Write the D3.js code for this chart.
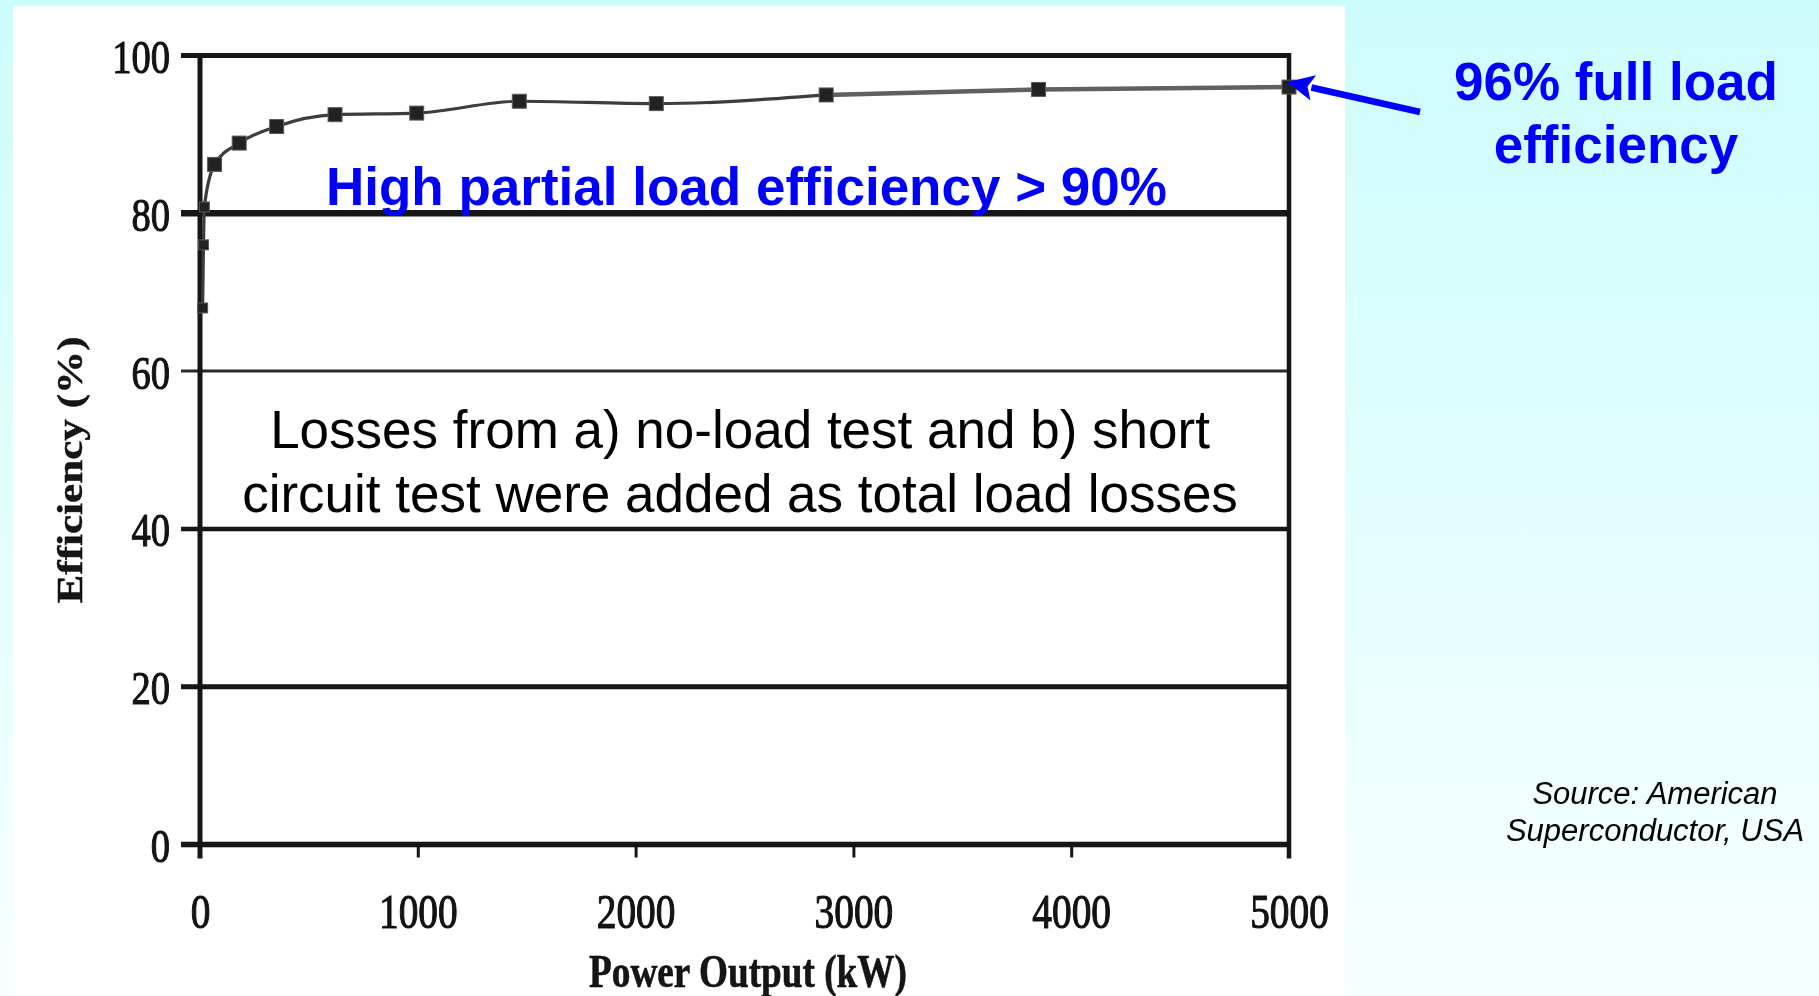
<!DOCTYPE html>
<html>
<head>
<meta charset="utf-8">
<script src="https://cdn.jsdelivr.net/npm/d3@7"></script>
<style>
  html, body { margin: 0; padding: 0; overflow: hidden; background: #fff; }
  svg { display: block; }
</style>
</head>
<body>
<svg id="chart" width="1819" height="996"></svg>
<script>
// Measured efficiency of the HTS transformer against power output
const powerKW    = [12, 16, 20, 67, 180, 352, 620, 995, 1466, 2095, 2875, 3850, 5000];
const efficiency = [68.0, 76.0, 80.8, 86.2, 88.9, 91.0, 92.5, 92.7, 94.2, 93.9, 95.0, 95.7, 96.0];

const xTicks = [0, 1000, 2000, 3000, 4000, 5000];
const yTicks = [0, 20, 40, 60, 80, 100];

const xTitle = "Power Output (kW)";
const yTitle = "Efficiency (%)";
const noteHigh = "High partial load efficiency > 90%";
const noteFull = ["96% full load", "efficiency"];
const noteLosses = ["Losses from a) no-load test and b) short",
                    "circuit test were added as total load losses"];
const noteSource = ["Source: American", "Superconductor, USA"];

const W = 1819, H = 996;
const svg = d3.select("#chart");
const defs = svg.append("defs");

// slide background: pale cyan, lightening downwards
const bg = defs.append("linearGradient").attr("id", "bg")
  .attr("x1", 0).attr("y1", 0).attr("x2", 0).attr("y2", 1);
bg.append("stop").attr("offset", "0%").attr("stop-color", "#cdfcfc");
bg.append("stop").attr("offset", "55%").attr("stop-color", "#e4fefe");
bg.append("stop").attr("offset", "100%").attr("stop-color", "#f7ffff");
svg.append("rect").attr("width", W).attr("height", H).attr("fill", "url(#bg)");

// soft edges of the printed figure
defs.append("filter").attr("id", "soft")
  .append("feGaussianBlur").attr("stdDeviation", 0.6);

// white panel holding the figure
svg.append("rect").attr("x", 13).attr("y", 6).attr("width", 1332).attr("height", H - 6)
  .attr("fill", "#ffffff");

const x = d3.scaleLinear().domain([0, 5000]).range([200, 1289]);
const y = d3.scaleLinear().domain([0, 100]).range([844.5, 55.5]);

const fig = svg.append("g").attr("filter", "url(#soft)");
const ink = "#121212";
const serif = "'Liberation Serif', 'Times New Roman', serif";
const squeeze = 0.82;

// horizontal grid lines (they also form the left-hand tick marks)
const gridWidth = { 0: 5.5, 20: 5, 40: 4.5, 60: 3, 80: 6.5, 100: 5 };
fig.append("g").selectAll("line")
  .data(yTicks)
  .join("line")
  .attr("x1", x(0) - 19)
  .attr("x2", x(5000) + 2)
  .attr("y1", d => y(d))
  .attr("y2", d => y(d))
  .attr("stroke", d => d === 60 ? "#2c2c2c" : ink)
  .attr("stroke-width", d => gridWidth[d]);

// left and right frame lines
fig.append("line")
  .attr("x1", x(0)).attr("x2", x(0))
  .attr("y1", y(100) - 2.5).attr("y2", y(0) + 14)
  .attr("stroke", ink).attr("stroke-width", 5);
fig.append("line")
  .attr("x1", x(5000)).attr("x2", x(5000))
  .attr("y1", y(100) - 2.5).attr("y2", y(0) + 14)
  .attr("stroke", ink).attr("stroke-width", 4.5);

// y axis labels
const yAxis = fig.append("g")
  .attr("transform", `translate(${x(0)},0)`)
  .call(d3.axisLeft(y).tickValues(yTicks).tickSize(0).tickPadding(30).tickFormat(d3.format("d")));
yAxis.select(".domain").remove();
yAxis.selectAll("text")
  .attr("x", -30 / squeeze)
  .attr("dy", 0)
  .attr("y", 17)
  .attr("transform", `scale(${squeeze},1)`)
  .attr("font-family", serif)
  .attr("font-size", 47)
  .attr("fill", ink)
  .attr("stroke", ink)
  .attr("stroke-width", 1.1);

// x axis ticks and labels
const xAxis = fig.append("g")
  .attr("transform", `translate(0,${y(0)})`)
  .call(d3.axisBottom(x).tickValues(xTicks).tickSize(13).tickFormat(d3.format("d")));
xAxis.select(".domain").remove();
xAxis.selectAll(".tick line").attr("stroke", ink).attr("stroke-width", 3);
xAxis.selectAll("text")
  .attr("y", 83.5)
  .attr("dy", 0)
  .attr("transform", `scale(${squeeze},1)`)
  .attr("font-family", serif)
  .attr("font-size", 48)
  .attr("fill", ink)
  .attr("stroke", ink)
  .attr("stroke-width", 1.1);

// axis titles
fig.append("text")
  .attr("x", 748).attr("y", 987)
  .attr("text-anchor", "middle")
  .attr("textLength", 318).attr("lengthAdjust", "spacingAndGlyphs")
  .attr("font-family", serif).attr("font-weight", "bold").attr("font-size", 46)
  .attr("fill", ink).attr("stroke", ink).attr("stroke-width", 0.6)
  .text(xTitle);

fig.append("text")
  .attr("transform", `translate(82,470) rotate(-90) scale(1,${squeeze})`)
  .attr("text-anchor", "middle")
  .attr("textLength", 267).attr("lengthAdjust", "spacingAndGlyphs")
  .attr("font-family", serif).attr("font-weight", "bold").attr("font-size", 43)
  .attr("fill", ink).attr("stroke", ink).attr("stroke-width", 0.5)
  .text(yTitle);

// efficiency curve: darker trace up to 2875 kW, lighter heavier trace beyond
const pts = powerKW.map((p, i) => [p, efficiency[i]]);
const split = powerKW.indexOf(2875);
const line = d3.line()
  .x(d => x(d[0]))
  .y(d => y(d[1]))
  .curve(d3.curveMonotoneX);
fig.append("path")
  .datum(pts.slice(0, split + 1))
  .attr("d", line)
  .attr("fill", "none")
  .attr("stroke", "#3c3c3c")
  .attr("stroke-width", 3.2)
  .attr("stroke-linejoin", "round");
fig.append("path")
  .datum(pts.slice(split))
  .attr("d", line)
  .attr("fill", "none")
  .attr("stroke", "#606060")
  .attr("stroke-width", 4.5)
  .attr("stroke-linejoin", "round");

// data markers
fig.append("g").selectAll("rect")
  .data(pts)
  .join("rect")
  .attr("x", (d, i) => x(d[0]) - (i < 3 ? 5 : 7))
  .attr("y", (d, i) => y(d[1]) - (i < 3 ? 5 : 7))
  .attr("width", (d, i) => i < 3 ? 10 : 14)
  .attr("height", (d, i) => i < 3 ? 10 : 14)
  .attr("fill", "#242424")
  .attr("stroke", "#5a5a5a")
  .attr("stroke-width", 1);

// annotations
const sans = "'Liberation Sans', Arial, Helvetica, sans-serif";
const blue = "#0000ff";

svg.append("text")
  .attr("x", 326).attr("y", 205)
  .attr("font-family", sans).attr("font-weight", "bold").attr("font-size", 53)
  .attr("fill", blue)
  .text(noteHigh);

svg.append("g").selectAll("text")
  .data(noteFull)
  .join("text")
  .attr("x", 1616)
  .attr("y", (d, i) => 100 + i * 63)
  .attr("text-anchor", "middle")
  .attr("font-family", sans).attr("font-weight", "bold").attr("font-size", 53)
  .attr("fill", blue)
  .text(d => d);

// arrow pointing at the full-load point
const tail = [1420, 112], tip = [1287, 82];
const dx = tip[0] - tail[0], dy = tip[1] - tail[1];
const len = Math.hypot(dx, dy);
const ux = dx / len, uy = dy / len;
const headLen = 27, headHalf = 13;
const base = [tip[0] - ux * headLen, tip[1] - uy * headLen];
svg.append("line")
  .attr("x1", tail[0]).attr("y1", tail[1])
  .attr("x2", base[0] + ux * 2).attr("y2", base[1] + uy * 2)
  .attr("stroke", blue).attr("stroke-width", 6.5);
svg.append("polygon")
  .attr("points", [
    tip,
    [base[0] - uy * headHalf, base[1] + ux * headHalf],
    [base[0] + ux * 6, base[1] + uy * 6],
    [base[0] + uy * headHalf, base[1] - ux * headHalf]
  ].map(p => p.join(",")).join(" "))
  .attr("fill", blue);

svg.append("g").selectAll("text")
  .data(noteLosses)
  .join("text")
  .attr("x", 740)
  .attr("y", (d, i) => 448 + i * 63.5)
  .attr("text-anchor", "middle")
  .attr("font-family", sans).attr("font-size", 53)
  .attr("fill", "#000")
  .text(d => d);

svg.append("g").selectAll("text")
  .data(noteSource)
  .join("text")
  .attr("x", 1655)
  .attr("y", (d, i) => 804 + i * 37)
  .attr("text-anchor", "middle")
  .attr("font-family", sans).attr("font-style", "italic").attr("font-size", 31)
  .attr("fill", "#000")
  .text(d => d);
</script>
</body>
</html>
